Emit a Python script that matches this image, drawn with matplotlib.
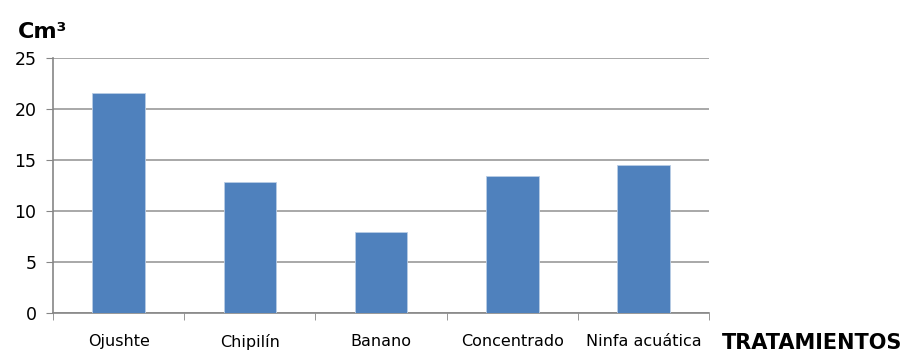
import matplotlib.pyplot as plt

categories = ["Ojushte", "Chipilín", "Banano", "Concentrado", "Ninfa acuática"]
volumes = [21.6, 12.8, 7.9, 13.4, 14.5]
y_ticks = [0, 5, 10, 15, 20, 25]

plt.rcParams['font.family'] = ['DejaVu Sans']

fig = plt.figure(figsize=(9.15, 3.55), dpi=100)
ax = fig.add_axes([0.058, 0.118, 0.717, 0.719])

x = range(len(categories))
ax.bar(x, volumes, width=0.4, color='#4f81bd', edgecolor='#b9cde5', linewidth=0.6, zorder=3)

ax.set_xlim(-0.5, len(categories) - 0.5)
ax.set_ylim(0, 25)
ax.set_yticks(y_ticks)
ax.set_xticks(list(x))
ax.set_xticklabels(categories, fontsize=11.5)
ax.tick_params(axis='x', length=0, pad=15)
ax.set_xticks([i - 0.5 for i in range(len(categories) + 1)], minor=True)
ax.tick_params(axis='x', which='minor', length=5, color='#868686')
ax.tick_params(axis='y', length=5, color='#868686', labelsize=12.5, pad=7)

ax.grid(axis='y', color='#9a9a9a', linewidth=1.2, zorder=0)
for side in ['top', 'right']:
    ax.spines[side].set_visible(False)
for side in ['left', 'bottom']:
    ax.spines[side].set_color('#868686')
    ax.spines[side].set_linewidth(1.2)

fig.text(0.019, 0.91, "Cm³", fontsize=16, fontweight='bold', ha='left', va='center')
fig.text(0.789, 0.035, "TRATAMIENTOS", fontsize=15, fontweight='bold', ha='left', va='center')

fig.savefig("out.png", dpi=100)
